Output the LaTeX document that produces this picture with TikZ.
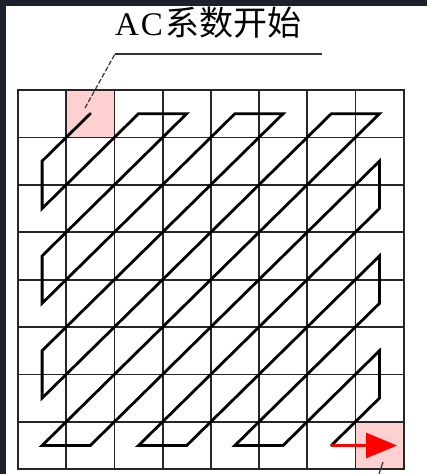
\documentclass[tikz,border=0pt]{standalone}
\usepackage{fontspec}
\newfontfamily\cjk{Noto Sans CJK SC}
\newfontfamily\latinf{Liberation Serif}
\usetikzlibrary{arrows.meta}
\definecolor{framecol}{RGB}{28,33,45}
\definecolor{cellpink}{RGB}{255,208,208}
\tikzset{
  gridline/.style={draw=black!85, line width=1.8pt, line cap=rect},
  scanline/.style={draw=black, line width=2.8pt, line cap=round, line join=miter},
  redarrow/.style={draw=red, line width=3pt, -{Triangle[length=31pt,width=25pt]}},
  leader/.style={draw=black!80, line width=1.2pt},
  labeltext/.style={inner sep=0pt}
}
\begin{document}
\begin{tikzpicture}[x=1pt,y=-1pt]
\useasboundingbox (0,0) rectangle (427,474);
\fill[framecol] (0,0) rectangle (427,474);
\fill[white] (6,6) rectangle (427,474);
\def\gx{18}\def\gw{48.2}\def\gy{90}\def\gh{47.4}
% pink cells
\fill[cellpink] ({\gx+\gw},\gy) rectangle ++(\gw,\gh);
\fill[cellpink] ({\gx+7*\gw},{\gy+7*\gh}) rectangle ++(\gw,\gh);
% grid
\foreach \i in {0,...,8} {
  \draw[gridline] ({\gx+\i*\gw},\gy) -- ({\gx+\i*\gw},{\gy+8*\gh});
  \draw[gridline] (\gx,{\gy+\i*\gh}) -- ({\gx+8*\gw},{\gy+\i*\gh});
}
% cell centres
\foreach \r in {0,...,7} {
  \foreach \c in {0,...,7} {
    \coordinate (c\r\c) at ({\gx+(\c+0.5)*\gw},{\gy+(\r+0.5)*\gh});
  }
}
% zigzag scan
\draw[scanline] (c01) -- (c10) -- (c20) -- (c02) -- (c03) -- (c30) -- (c40) -- (c04)
  -- (c05) -- (c50) -- (c60) -- (c06) -- (c07) -- (c70) -- (c71) -- (c17)
  -- (c27) -- (c72) -- (c73) -- (c37) -- (c47) -- (c74) -- (c75) -- (c57)
  -- (c67) -- (c76);
% red arrow
\coordinate (tip) at (397,{\gy+7.5*\gh});
\draw[redarrow] (c76) -- (tip);
% label and leader
\node[labeltext] (lbl) at (208.5,23) {{\latinf\fontsize{33}{33}\selectfont A\kern2pt C\kern3pt}{\cjk\fontsize{34}{34}\selectfont 系数开始}};
\coordinate (ls) at (85,108);
\coordinate (lk) at (115,54);
\coordinate (le) at (322,54);
\draw[leader, dash pattern=on 5pt off 2pt] (ls) -- (lk);
\draw[leader] (lk) -- (le);
% bottom tick
\coordinate (t1) at (383,462);
\coordinate (t2) at (379,474);
\draw[leader] (t1) -- (t2);
\end{tikzpicture}
\end{document}
